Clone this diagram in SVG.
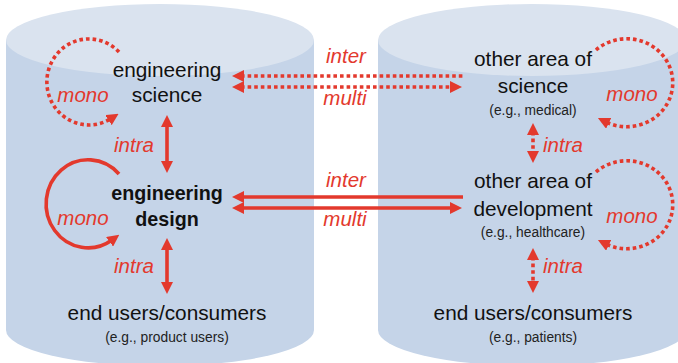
<svg xmlns="http://www.w3.org/2000/svg" width="678" height="363" viewBox="0 0 678 363">
<style>
.body{fill:#c5d4e8}
.top{fill:#dae3ef}
.t{font-family:"Liberation Sans",Arial,sans-serif;font-size:20.8px;fill:#111;text-anchor:middle}
.b{font-weight:bold;font-size:19.7px}
.s{font-family:"Liberation Sans",Arial,sans-serif;font-size:13.8px;fill:#222;text-anchor:middle}
.r{font-family:"Liberation Sans",Arial,sans-serif;font-size:20.5px;font-style:italic;fill:#e3392d;text-anchor:middle}
.rl{text-anchor:start}
.ln{fill:none;stroke:#e3392d;stroke-width:3.6}
.dot{stroke-dasharray:3.6 3}
</style>
<defs>
<marker id="ah" markerUnits="userSpaceOnUse" markerWidth="12" markerHeight="12" viewBox="0 0 12 12" refX="3" refY="6" orient="auto-start-reverse">
<path d="M0,0 L12,6 L0,12 z" fill="#e3392d"/>
</marker>
</defs>
<g id="cyl-left">
<path class="body" d="M6,40 V330 A154,36 0 0 0 314,330 V40 Z"/>
<ellipse class="top" cx="160" cy="40" rx="154" ry="36"/>
</g>
<g id="cyl-right">
<path class="body" d="M378,40 V330 A154,36 0 0 0 686,330 V40 Z"/>
<ellipse class="top" cx="532" cy="40" rx="154" ry="36"/>
</g>
<g id="eng-science">
<text class="t" x="167" y="77">engineering</text>
<text class="t" x="167" y="102">science</text>
</g>
<g id="eng-design">
<text class="t b" x="167" y="200">engineering</text>
<text class="t b" x="167" y="226">design</text>
</g>
<g id="end-users-left">
<text class="t" x="167" y="320">end users/consumers</text>
<text class="s" x="167" y="342">(e.g., product users)</text>
</g>
<g id="other-science">
<text class="t" x="533" y="66">other area of</text>
<text class="t" x="533" y="93">science</text>
<text class="s" x="533" y="115">(e.g., medical)</text>
</g>
<g id="other-development">
<text class="t" x="533" y="188">other area of</text>
<text class="t" x="533" y="216">development</text>
<text class="s" x="533" y="237">(e.g., healthcare)</text>
</g>
<g id="end-users-right">
<text class="t" x="533" y="320">end users/consumers</text>
<text class="s" x="533" y="342">(e.g., patients)</text>
</g>
<g id="connectors">
<path class="ln dot" d="M119,52 A42,43 0 1 0 111,118.5" marker-end="url(#ah)"/>
<path class="ln" d="M119,174 A42,44 0 1 0 112,240" marker-end="url(#ah)"/>
<path class="ln dot" d="M596,50 A46,44 0 1 1 606,122" marker-end="url(#ah)"/>
<path class="ln dot" d="M596,172 A46,44 0 1 1 606,244" marker-end="url(#ah)"/>
<line class="ln" x1="167" y1="124" x2="167" y2="164" marker-start="url(#ah)" marker-end="url(#ah)"/>
<line class="ln" x1="167" y1="247" x2="167" y2="285" marker-start="url(#ah)" marker-end="url(#ah)"/>
<line class="ln dot" x1="533" y1="132" x2="533" y2="154" marker-start="url(#ah)" marker-end="url(#ah)"/>
<line class="ln dot" x1="533" y1="257" x2="533" y2="284" marker-start="url(#ah)" marker-end="url(#ah)"/>
<line class="ln dot" x1="241" y1="76" x2="463" y2="76" marker-start="url(#ah)"/>
<line class="ln dot" x1="241" y1="87" x2="453" y2="87" marker-start="url(#ah)" marker-end="url(#ah)"/>
<line class="ln" x1="241" y1="197" x2="463" y2="197" marker-start="url(#ah)"/>
<line class="ln" x1="241" y1="208" x2="453" y2="208" marker-start="url(#ah)" marker-end="url(#ah)"/>
<text class="r" x="83" y="102">mono</text>
<text class="r" x="83" y="225">mono</text>
<text class="r" x="632" y="101">mono</text>
<text class="r" x="632" y="223">mono</text>
<text class="r" x="134" y="152">intra</text>
<text class="r" x="134" y="273">intra</text>
<text class="r rl" x="543" y="152">intra</text>
<text class="r rl" x="543" y="273">intra</text>
<text class="r" x="346" y="63">inter</text>
<text class="r" x="345" y="105">multi</text>
<text class="r" x="346" y="187">inter</text>
<text class="r" x="345" y="226">multi</text>
</g>
</svg>
